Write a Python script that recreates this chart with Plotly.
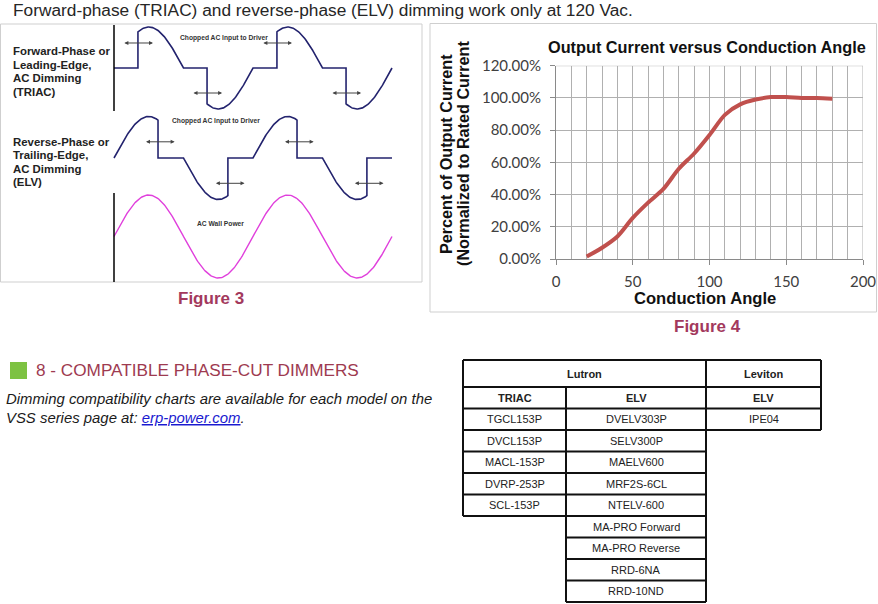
import numpy as np
import plotly.graph_objects as go

W, H = 878, 604

# ---------------- Figure 4 data ----------------
cond_angle = [20, 30, 40, 50, 60, 70, 80, 90, 100, 110, 120, 130, 140, 150, 160, 170, 180]
out_current_pct = [1.5, 7, 14, 25.5, 35, 43.5, 56, 65.5, 77, 89.5, 96, 99, 100.5, 100.5, 100, 100, 99.5]
y_tick_vals = [0, 20, 40, 60, 80, 100, 120]
y_tick_text = ["0.00%", "20.00%", "40.00%", "60.00%", "80.00%", "100.00%", "120.00%"]
x_tick_vals = [0, 50, 100, 150, 200]

# ---------------- Figure 3 waveform parameters (degrees within each half cycle) ----------------
triac_fire_delay = [62, 61, 62, 61]     # leading-edge firing angle per half cycle
elv_cut_angle = [114, 115, 114, 115]    # trailing-edge cut angle per half cycle
wall_cycles = 2

# ---------------- Table data ----------------
lutron_triac = ["TGCL153P", "DVCL153P", "MACL-153P", "DVRP-253P", "SCL-153P"]
lutron_elv = ["DVELV303P", "SELV300P", "MAELV600", "MRF2S-6CL", "NTELV-600",
              "MA-PRO Forward", "MA-PRO Reverse", "RRD-6NA", "RRD-10ND"]
leviton_elv = ["IPE04"]


def X(px):
    return px / W


def Y(py):
    return 1 - py / H


FONT = "Liberation Sans"
annotations = []
shapes = []


def txt(px, py, s, size, color="#222222", bold=False, italic=False, xanchor="left",
        family=FONT, angle=0):
    if bold:
        s = "<b>" + s + "</b>"
    if italic:
        s = "<i>" + s + "</i>"
    annotations.append(dict(x=X(px), y=Y(py), xref="paper", yref="paper", text=s,
                            showarrow=False, xanchor=xanchor, yanchor="middle",
                            textangle=angle, borderpad=0,
                            font=dict(size=size, color=color, family=family)))


def line(x0, y0, x1, y1, color="#000000", width=1):
    shapes.append(dict(type="line", xref="paper", yref="paper", x0=X(x0), y0=Y(y0),
                       x1=X(x1), y1=Y(y1), line=dict(color=color, width=width)))


def rect(x0, y0, x1, y1, color="#cccccc", width=1, fill=None):
    shapes.append(dict(type="rect", xref="paper", yref="paper", x0=X(x0), y0=Y(y0),
                       x1=X(x1), y1=Y(y1), line=dict(color=color, width=width),
                       fillcolor=fill if fill else "rgba(0,0,0,0)"))


fig = go.Figure()

# ---------------- Waveforms (Figure 3) ----------------
def triac_wave(delays):
    xs, ys = [], []
    for k, d in enumerate(delays):
        s = 180 * k
        xs += [s, s + d]
        ys += [0, 0]
        th = np.linspace(s + d, s + 180, 60)
        xs += list(th)
        ys += list(np.sin(np.radians(th)))
    return xs, ys


def elv_wave(cuts):
    xs, ys = [], []
    for k, c in enumerate(cuts):
        s = 180 * k
        th = np.linspace(s, s + c, 60)
        xs += list(th)
        ys += list(np.sin(np.radians(th)))
        xs += [s + c, s + 180]
        ys += [0, 0]
    return xs, ys


tx, ty = triac_wave(triac_fire_delay)
ex, ey = elv_wave(elv_cut_angle)
wx = np.linspace(0, 360 * wall_cycles, 300)
wy = np.sin(np.radians(wx))

NAVY = "#23236e"
PINK = "#e040dc"
fig.add_trace(go.Scatter(x=tx, y=ty, xaxis="x2", yaxis="y2", mode="lines",
                         line=dict(color=NAVY, width=1.6), hoverinfo="skip", showlegend=False))
fig.add_trace(go.Scatter(x=ex, y=ey, xaxis="x2", yaxis="y3", mode="lines",
                         line=dict(color=NAVY, width=1.6), hoverinfo="skip", showlegend=False))
fig.add_trace(go.Scatter(x=wx, y=wy, xaxis="x2", yaxis="y4", mode="lines",
                         line=dict(color=PINK, width=1.4), hoverinfo="skip", showlegend=False))

# ---------------- Figure 4 curve ----------------
fig.add_trace(go.Scatter(x=cond_angle, y=out_current_pct, mode="lines",
                         line=dict(color="#c0504d", width=4, shape="spline", smoothing=0.8),
                         hoverinfo="skip", showlegend=False))

# waveform axes geometry
wx0, wx1 = 114, 392
deg_px = (wx1 - wx0) / 720.0
pad = 5


def ydom(mid, amp):
    return [Y(mid + 1.08 * amp), Y(mid - 1.08 * amp)]


layout_axes = dict(
    xaxis2=dict(domain=[X(wx0 - pad * deg_px), X(wx1 + pad * deg_px)], range=[-pad, 720 + pad],
                visible=False, anchor="y2", automargin=False),
    yaxis2=dict(domain=ydom(68, 41), range=[-1.08, 1.08], visible=False, anchor="x2", automargin=False),
    yaxis3=dict(domain=ydom(158, 41.5), range=[-1.08, 1.08], visible=False, anchor="x2", automargin=False),
    yaxis4=dict(domain=ydom(236.5, 41.5), range=[-1.08, 1.08], visible=False, anchor="x2", automargin=False),
)

# double-headed arrows on waveforms
def darrow(xc, yv, yref, half=39):
    annotations.append(dict(x=xc + half, y=yv, ax=xc - half, ay=yv, xref="x2", yref=yref,
                            axref="x2", ayref=yref, showarrow=True, arrowhead=2,
                            arrowside="end+start", arrowsize=0.8, arrowwidth=1,
                            arrowcolor="#444444", text=""))


for k, d in enumerate(triac_fire_delay):
    darrow(180 * k + d, 0.61 if k % 2 == 0 else -0.61, "y2")
for k, c in enumerate(elv_cut_angle):
    darrow(180 * k + c + 4, 0.39 if k % 2 == 0 else -0.61, "y3")

# ---------------- Figure 3 frame and labels ----------------
rect(0.5, 24, 422, 282, color="#cfcfcf", width=1)
line(114, 25, 114, 111, color="#000000", width=1.5)
line(114, 193, 114, 282, color="#000000", width=1.5)

for i, s in enumerate(["Forward-Phase or", "Leading-Edge,", "AC Dimming", "(TRIAC)"]):
    txt(12, 51 + i * 13.7, s, 11.4, "#222222", bold=True)
for i, s in enumerate(["Reverse-Phase or", "Trailing-Edge,", "AC Dimming", "(ELV)"]):
    txt(12, 142 + i * 13.4, s, 11.4, "#222222", bold=True)

txt(224, 38, "Chopped AC Input to Driver", 6.7, "#333333", bold=True, xanchor="center")
txt(216, 120.5, "Chopped AC Input to Driver", 6.7, "#333333", bold=True, xanchor="center")
txt(220, 223.5, "AC Wall Power", 6.7, "#333333", bold=True, xanchor="center")

MAROON = "#a3395d"
txt(211, 298, "Figure 3", 17, MAROON, bold=True, xanchor="center")

# ---------------- Header ----------------
txt(12, 10, "Forward-phase (TRIAC) and reverse-phase (ELV) dimming work only at 120 Vac.",
    17.3, "#262626")

# ---------------- Figure 4 frame and labels ----------------
rect(430, 23.5, 876.5, 312, color="#cfcfcf", width=1)
px_x0, px_x1 = 556, 863
px_y0, px_y1 = 259, 65.7
GRID = "#b0b0b0"
AXC = "#8a8a8a"
shapes.append(dict(type="line", xref="x", yref="y", x0=200, x1=200, y0=0, y1=120,
                   line=dict(color=GRID, width=1), layer="below"))
shapes.append(dict(type="line", xref="x", yref="y", x0=0, x1=200, y0=120, y1=120,
                   line=dict(color=GRID, width=1), layer="below"))

txt(707, 47, "Output Current versus Conduction Angle", 16.3, "#111111", bold=True, xanchor="center")
txt(705, 299, "Conduction Angle", 16.6, "#111111", bold=True, xanchor="center")
annotations.append(dict(x=X(446), y=Y(154), xref="paper", yref="paper",
                        text="<b>Percent of Output Current</b>", showarrow=False,
                        textangle=-90, xanchor="center", yanchor="middle",
                        font=dict(size=16.2, color="#111111", family=FONT)))
annotations.append(dict(x=X(463), y=Y(154), xref="paper", yref="paper",
                        text="<b>(Normalized to Rated Current</b>", showarrow=False,
                        textangle=-90, xanchor="center", yanchor="middle",
                        font=dict(size=16.2, color="#111111", family=FONT)))
txt(707, 326, "Figure 4", 17, MAROON, bold=True, xanchor="center")

# ---------------- Section 8 ----------------
rect(10, 362, 27, 379, color="#7dc242", width=0, fill="#7dc242")
txt(35, 369.5, "8 - COMPATIBLE PHASE-CUT DIMMERS", 17.2, "#9e3a50")
txt(5, 399, "Dimming compatibility charts are available for each model on the", 14.9,
    "#1a1a1a", italic=True)
txt(5, 418, "VSS series page at: <span style='color:#1a1ad0'><u>erp-power.com</u></span>.",
    14.9, "#1a1a1a", italic=True)

# ---------------- Table ----------------
cx = [463, 566, 706, 821]
top = 360
h1 = 27
rh = 21.5
r_head2 = top + h1
r_data = r_head2 + rh
TB = "#111111"
LW = 2
TF = 11

txt((cx[0] + cx[2]) / 2, top + h1 / 2, "Lutron", TF, "#222222", bold=True, xanchor="center")
txt((cx[2] + cx[3]) / 2, top + h1 / 2, "Leviton", TF, "#222222", bold=True, xanchor="center")
txt((cx[0] + cx[1]) / 2, r_head2 + rh / 2, "TRIAC", TF, "#222222", bold=True, xanchor="center")
txt((cx[1] + cx[2]) / 2, r_head2 + rh / 2, "ELV", TF, "#222222", bold=True, xanchor="center")
txt((cx[2] + cx[3]) / 2, r_head2 + rh / 2, "ELV", TF, "#222222", bold=True, xanchor="center")

for i, s in enumerate(lutron_triac):
    txt((cx[0] + cx[1]) / 2, r_data + rh * (i + 0.5), s, TF, "#222222", xanchor="center")
for i, s in enumerate(lutron_elv):
    txt((cx[1] + cx[2]) / 2, r_data + rh * (i + 0.5), s, TF, "#222222", xanchor="center")
for i, s in enumerate(leviton_elv):
    txt((cx[2] + cx[3]) / 2, r_data + rh * (i + 0.5), s, TF, "#222222", xanchor="center")

n_tri, n_elv, n_lev = len(lutron_triac), len(lutron_elv), len(leviton_elv)
bot_tri = r_data + rh * n_tri
bot_elv = r_data + rh * n_elv
bot_lev = r_data + rh * n_lev

line(cx[0], top, cx[3], top, TB, LW)
line(cx[0], r_head2, cx[3], r_head2, TB, LW)
for i in range(n_elv + 1):
    yv = r_data + rh * i
    x_left = cx[0] if i <= n_tri else cx[1]
    x_right = cx[3] if i <= n_lev else cx[2]
    line(x_left, yv, x_right, yv, TB, LW)
line(cx[0], top, cx[0], bot_tri, TB, LW)
line(cx[1], r_head2, cx[1], bot_elv, TB, LW)
line(cx[2], top, cx[2], bot_elv, TB, LW)
line(cx[3], top, cx[3], bot_lev, TB, LW)

fig.update_layout(
    width=W, height=H, autosize=False,
    margin=dict(l=0, r=0, t=0, b=0, pad=0, autoexpand=False),
    paper_bgcolor="white", plot_bgcolor="rgba(0,0,0,0)",
    showlegend=False,
    xaxis=dict(domain=[X(px_x0), X(px_x1)], range=[0, 200], tickmode="array",
               tickvals=x_tick_vals, ticks="outside", ticklen=5, tickcolor=AXC,
               showline=True, linecolor=AXC, linewidth=1, showgrid=True, gridcolor=GRID,
               gridwidth=1, zeroline=False, ticklabelstandoff=4, automargin=False,
               minor=dict(dtick=10, tick0=0, showgrid=True, gridcolor=GRID, gridwidth=1, ticks=""),
               tickfont=dict(family="Lato", size=15, color="#404040"), anchor="y"),
    yaxis=dict(domain=[Y(px_y0), Y(px_y1)], range=[0, 120], tickmode="array",
               tickvals=y_tick_vals, ticktext=y_tick_text, ticks="outside", ticklen=5,
               tickcolor=AXC, showline=True, linecolor=AXC, linewidth=1, showgrid=True,
               gridcolor=GRID, gridwidth=1, zeroline=False, ticklabelstandoff=6, automargin=False,
               tickfont=dict(family="Lato", size=15, color="#404040"), anchor="x"),
    annotations=annotations,
    shapes=shapes,
    **layout_axes,
)

fig.write_html("out.html", config={"displayModeBar": False})
